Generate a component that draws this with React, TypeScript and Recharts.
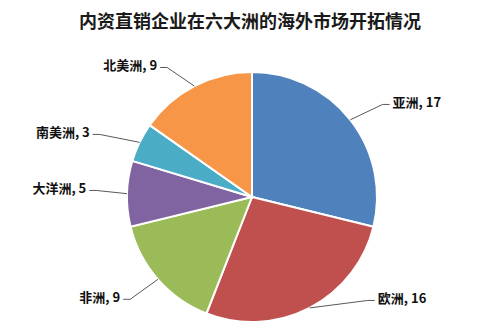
import React from 'react';
import { PieChart, Pie, Cell } from 'recharts';

const TITLE = '内资直销企业在六大洲的海外市场开拓情况';

const REGIONS = ['亚洲', '欧洲', '非洲', '大洋洲', '南美洲', '北美洲'];
const COUNTS = [17, 16, 9, 5, 3, 9];
const COLORS = ['#4F81BD', '#C0504D', '#9BBB59', '#8064A2', '#4BACC6', '#F79646'];

// label anchor: angle clockwise from 12 o'clock (deg), distance from centre (px)
const LABEL_LAYOUT: Record<string, { angle: number; dist: number }> = {
  亚洲: { angle: 55.8, dist: 170 },
  欧洲: { angle: 128.6, dist: 161 },
  非洲: { angle: 233, dist: 165 },
  大洋洲: { angle: 273.3, dist: 166 },
  南美洲: { angle: 292, dist: 175 },
  北美洲: { angle: 324.4, dist: 163 },
};

const chartData = REGIONS.map((name, i) => ({ name, value: COUNTS[i] }));

const RAD = Math.PI / 180;

const renderLabel = (props: any) => {
  const { cx, cy, midAngle, outerRadius, name, value } = props;
  // recharts midAngle: 0 = 3 o'clock, counter-clockwise
  const ex = cx + outerRadius * Math.cos(-midAngle * RAD);
  const ey = cy + outerRadius * Math.sin(-midAngle * RAD);
  const lay = LABEL_LAYOUT[name];
  const tx = cx + lay.dist * Math.sin(lay.angle * RAD);
  const ty = cy - lay.dist * Math.cos(lay.angle * RAD);
  const right = tx > cx;
  const s = right ? 1 : -1;
  const points = `${ex},${ey} ${tx - s * 10},${ty + 3} ${tx - s * 3},${ty + 3}`;
  return (
    <g>
      <polyline points={points} fill="none" stroke="#595959" strokeWidth={1} />
      <text
        x={tx}
        y={ty}
        textAnchor={right ? 'start' : 'end'}
        dominantBaseline="central"
        fontSize={13}
        fontWeight="bold"
        fill="#111"
        fontFamily="'Noto Sans CJK SC', sans-serif"
      >
        {`${name}, ${value}`}
      </text>
    </g>
  );
};

export default function App() {
  return (
    <div style={{ position: 'absolute', left: 0, top: 0, width: 500, height: 335, background: '#fff' }}>
      <div
        style={{
          position: 'absolute',
          left: 0,
          top: 6,
          width: 500,
          textAlign: 'center',
          fontFamily: "'Noto Sans CJK SC', sans-serif",
          fontSize: 18,
          fontWeight: 'bold',
          color: '#1a1a1a',
          lineHeight: '28px',
        }}
      >
        {TITLE}
      </div>
      <PieChart width={500} height={335} margin={{ top: 0, right: 0, bottom: 0, left: 0 }}>
        <Pie
          data={chartData}
          dataKey="value"
          nameKey="name"
          cx={252}
          cy={197}
          outerRadius={125}
          startAngle={90}
          endAngle={-270}
          stroke="#ffffff"
          strokeWidth={2}
          label={renderLabel}
          labelLine={false}
          isAnimationActive={false}
        >
          {chartData.map((d, i) => (
            <Cell key={d.name} fill={COLORS[i]} />
          ))}
        </Pie>
      </PieChart>
    </div>
  );
}
